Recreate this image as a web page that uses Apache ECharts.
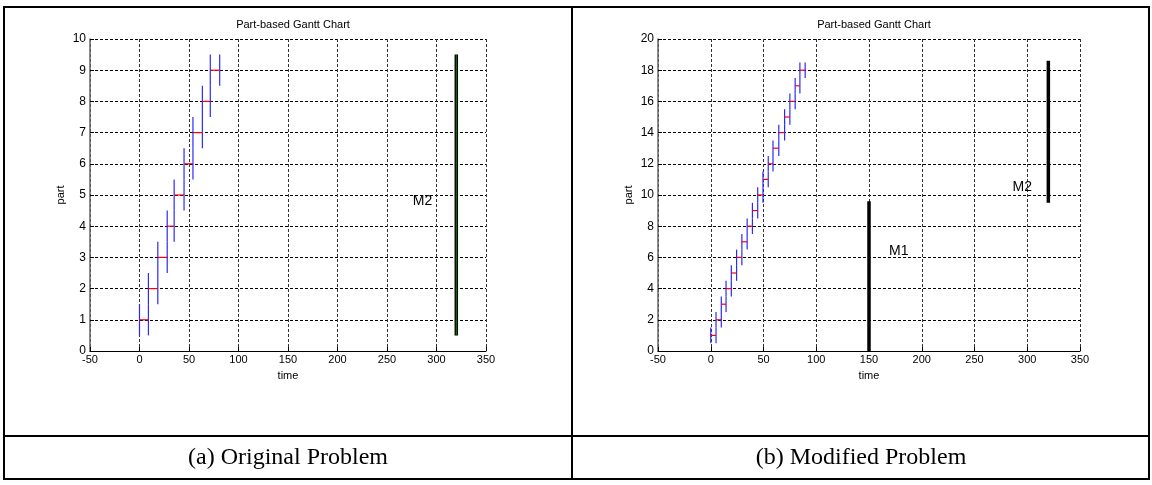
<!DOCTYPE html>
<html>
<head>
<meta charset="utf-8">
<script src="https://cdn.jsdelivr.net/npm/echarts@6/dist/echarts.min.js"></script>
<style>
html,body{margin:0;padding:0;background:#fff;}
#chart{width:1152px;height:485px;}
</style>
</head>
<body>
<div id="chart"></div>
<script>
// ---- data ----
const chartTitle = 'Part-based Gantt Chart';
const xLabel = 'time';
const yLabel = 'part';
const captionA = '(a) Original Problem';
const captionB = '(b) Modified Problem';

// operation boundaries (time) for consecutive parts 1..n
const leftBounds = [0, 9, 18.5, 28, 35, 45, 54, 63.5, 71.5, 81];
const rightBounds = [0, 5, 10, 14.5, 19.5, 24.5, 29.5, 34.5, 39.5, 44.5, 49.5, 54.5, 59, 64.5, 70, 75, 80, 84.5, 89.5];

// machine bars
const leftMachineNames = ['M2'];
const leftMachineTimes = [320];
const leftMachineFrom = [0.5];
const leftMachineTo = [9.5];
const leftMachineLabelX = [276];
const leftMachineLabelY = [4.8];

const rightMachineNames = ['M1', 'M2'];
const rightMachineTimes = [150, 320];
const rightMachineFrom = [0, 9.5];
const rightMachineTo = [9.6, 18.6];
const rightMachineLabelX = [169, 286];
const rightMachineLabelY = [6.4, 10.5];

// axes ranges
const xMin = -50, xMax = 350, xStep = 50;
const leftYMax = 10, leftYStep = 1;
const rightYMax = 20, rightYStep = 2;

// ---- build segments ----
function horizSegs(b) {
  const out = [];
  for (let i = 1; i < b.length; i++) out.push([b[i - 1], i, b[i], i]);
  return out;
}
function vertSegs(b) {
  const out = [];
  for (let i = 1; i < b.length; i++) {
    out.push([b[i - 1], i - 0.5, b[i - 1], i + 0.5]);
    out.push([b[i], i - 0.5, b[i], i + 0.5]);
  }
  return out;
}
function machineSegs(times, from, to) {
  return times.map((t, i) => [t, from[i], t, to[i]]);
}
function machineLabelPts(xs, ys) {
  return xs.map((x, i) => [x, ys[i]]);
}

function segRenderer(color, width) {
  return function (params, api) {
    const p1 = api.coord([api.value(0), api.value(1)]);
    const p2 = api.coord([api.value(2), api.value(3)]);
    return {
      type: 'line',
      shape: { x1: p1[0], y1: p1[1], x2: p2[0], y2: p2[1] },
      style: { stroke: color, lineWidth: width }
    };
  };
}
function labelRenderer(names) {
  return function (params, api) {
    const p = api.coord([api.value(0), api.value(1)]);
    return {
      type: 'text',
      x: p[0], y: p[1],
      style: {
        text: names[params.dataIndex],
        fill: '#000',
        font: '14px "Liberation Sans", Arial, sans-serif',
        align: 'left', verticalAlign: 'middle'
      }
    };
  };
}

const FONT = '"Liberation Sans", Arial, sans-serif';

function makeX(gi) {
  return {
    gridIndex: gi, type: 'value', min: xMin, max: xMax, interval: xStep,
    name: xLabel, nameLocation: 'middle', nameGap: 19,
    nameTextStyle: { color: '#000', fontSize: 11, fontFamily: FONT },
    axisLine: { show: true, onZero: false, lineStyle: { color: '#000', width: 1 } },
    axisTick: { show: true, inside: true, length: 4, lineStyle: { color: '#000' } },
    axisLabel: { color: '#000', fontSize: 11, fontFamily: FONT, margin: 3 },
    splitLine: { show: true, lineStyle: { color: '#333', type: [3, 2], width: 1 } }
  };
}
function makeY(gi, max, step) {
  return {
    gridIndex: gi, type: 'value', min: 0, max: max, interval: step,
    name: yLabel, nameLocation: 'middle', nameGap: 24, nameRotate: 90,
    nameTextStyle: { color: '#000', fontSize: 11, fontFamily: FONT },
    axisLine: { show: true, onZero: false, lineStyle: { color: '#666', width: 1.5 } },
    axisTick: { show: true, inside: true, length: 4, lineStyle: { color: '#000' } },
    axisLabel: { color: '#000', fontSize: 12, fontFamily: FONT, margin: 4 },
    splitLine: { show: true, lineStyle: { color: '#000', type: [3, 2], width: 1 } }
  };
}

function seriesFor(gi, bounds, mt, mf, mto, mn, mlx, mly, green) {
  const s = [
    {
      type: 'custom', xAxisIndex: gi, yAxisIndex: gi,
      renderItem: segRenderer('#2a2aff', 1.2),
      encode: { x: [0, 2], y: [1, 3] },
      data: vertSegs(bounds), silent: true, z: 2
    },
    {
      type: 'custom', xAxisIndex: gi, yAxisIndex: gi,
      renderItem: segRenderer('#ff0000', 1.2),
      encode: { x: [0, 2], y: [1, 3] },
      data: horizSegs(bounds), silent: true, z: 3
    },
    {
      type: 'custom', xAxisIndex: gi, yAxisIndex: gi,
      renderItem: segRenderer('#000', 3.5),
      encode: { x: [0, 2], y: [1, 3] },
      data: machineSegs(mt, mf, mto), silent: true, z: 4
    },
    {
      type: 'custom', xAxisIndex: gi, yAxisIndex: gi,
      renderItem: labelRenderer(mn),
      encode: { x: 0, y: 1 },
      data: machineLabelPts(mlx, mly), silent: true, z: 5
    }
  ];
  if (green) {
    s.push({
      type: 'custom', xAxisIndex: gi, yAxisIndex: gi,
      renderItem: segRenderer('#10a010', 0.8),
      encode: { x: [0, 2], y: [1, 3] },
      data: machineSegs(mt, mf, mto), silent: true, z: 6
    });
  }
  return s;
}

const chart = echarts.init(document.getElementById('chart'));
chart.setOption({
  backgroundColor: '#fff',
  animation: false,
  title: [
    { text: chartTitle, left: 288, top: 14, textAlign: 'center',
      textStyle: { fontSize: 11, fontWeight: 'normal', color: '#000', fontFamily: FONT } },
    { text: chartTitle, left: 869, top: 14, textAlign: 'center',
      textStyle: { fontSize: 11, fontWeight: 'normal', color: '#000', fontFamily: FONT } }
  ],
  grid: [
    { left: 90, top: 39, width: 396, height: 312 },
    { left: 658, top: 39, width: 422, height: 312 }
  ],
  xAxis: [makeX(0), makeX(1)],
  yAxis: [makeY(0, leftYMax, leftYStep), makeY(1, rightYMax, rightYStep)],
  series: [
    ...seriesFor(0, leftBounds, leftMachineTimes, leftMachineFrom, leftMachineTo,
      leftMachineNames, leftMachineLabelX, leftMachineLabelY, true),
    ...seriesFor(1, rightBounds, rightMachineTimes, rightMachineFrom, rightMachineTo,
      rightMachineNames, rightMachineLabelX, rightMachineLabelY, false)
  ],
  graphic: [
    { type: 'rect', shape: { x: 4, y: 7, width: 1145, height: 472 },
      style: { fill: null, stroke: '#000', lineWidth: 2 }, silent: true },
    { type: 'line', shape: { x1: 572, y1: 7, x2: 572, y2: 479 },
      style: { stroke: '#000', lineWidth: 2 }, silent: true },
    { type: 'line', shape: { x1: 4, y1: 436, x2: 1149, y2: 436 },
      style: { stroke: '#000', lineWidth: 2 }, silent: true },
    { type: 'text', x: 288, y: 458,
      style: { text: captionA, font: '24px "Liberation Serif", "Times New Roman", serif',
        fill: '#000', align: 'center', verticalAlign: 'middle' }, silent: true },
    { type: 'text', x: 861, y: 458,
      style: { text: captionB, font: '24px "Liberation Serif", "Times New Roman", serif',
        fill: '#000', align: 'center', verticalAlign: 'middle' }, silent: true }
  ]
});
</script>
</body>
</html>
